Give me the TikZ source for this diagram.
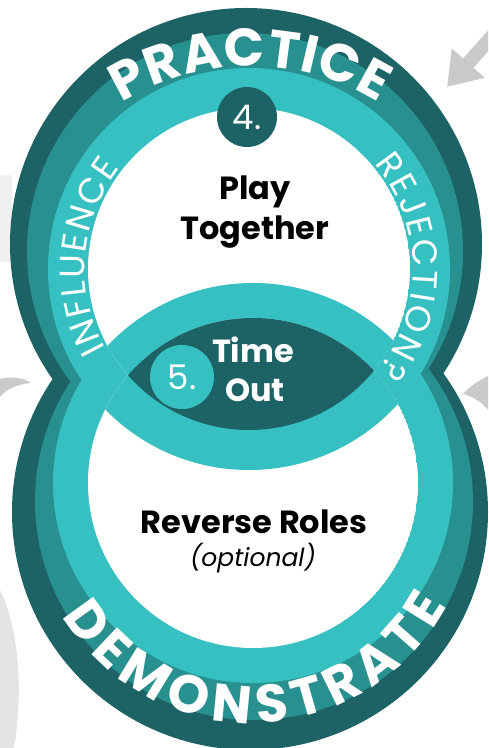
\documentclass[tikz,border=0pt]{standalone}
\usepackage{fontspec}
\setmainfont{Poppins}
\usetikzlibrary{calc,decorations.text,arrows.meta}
\definecolor{teal1}{HTML}{1D6264}
\definecolor{teal2}{HTML}{28908E}
\definecolor{teal3}{HTML}{37C0C2}
\definecolor{grey1}{HTML}{CACACA}
\definecolor{grey2}{HTML}{F0F0F0}
\definecolor{grey3}{HTML}{E4E4E4}
\newcommand{\bigword}{\fontsize{53}{53}\selectfont\bfseries\color{white}}
\newcommand{\sideword}{\fontsize{35}{35}\selectfont\color{white}}

\tikzset{
  numdisc/.style={circle, inner sep=0pt, text=white, font=\fontsize{34}{34}\selectfont},
  steptext/.style={anchor=base, font=\fontsize{32}{32}\selectfont\bfseries}
}

\begin{document}
\begin{tikzpicture}[x=1pt, y=1pt]
\useasboundingbox (0,0) rectangle (488,748);
\clip (0,0) rectangle (488,748);

% centres of the rings
\coordinate (topdark) at (246,504);
\coordinate (topmid) at (245,497);
\coordinate (top) at (249,479);
\coordinate (botdark) at (250,236);
\coordinate (botmid) at (254,247);
\coordinate (bot) at (253,265);
\coordinate (arcup) at (250,440);
\coordinate (arcdown) at (252,246);

% grey parts of the outer cycle
\fill[grey2] (0,486) rectangle (12,573);
\fill[grey3] (0,158) .. controls (18,123) and (24,58) .. (14,0) -- (0,0) -- cycle;
\fill[grey1] (0,369) .. controls (12,372) and (24,370) .. (31,365) .. controls (18,364) and (6,359) .. (0,351) -- cycle;
\fill[grey1] (488,372) .. controls (476,366) and (468,360) .. (463,354) .. controls (472,352) and (482,346) .. (488,338) -- cycle;
\coordinate (arrowtail) at (512,734);
\coordinate (arrowtip) at (447,661);
\draw[grey1, line width=14pt, -{Triangle[width=42pt,length=32pt]}] (arrowtail) -- (arrowtip);

% rings
\fill[teal1] (topdark) circle [radius=236pt] (botdark) circle [radius=238pt];
\fill[teal2] (topmid) circle [radius=218pt] (botmid) circle [radius=219pt];
\fill[teal3] (top) circle [radius=201pt] (bot) circle [radius=200pt];

\begin{scope}
\clip (top) circle [radius=161pt];
\fill[white] (top) circle [radius=161pt];
\fill[teal3] (bot) circle [radius=200pt];
\end{scope}
\begin{scope}
\clip (bot) circle [radius=165pt];
\fill[white] (bot) circle [radius=165pt];
\fill[teal3] (top) circle [radius=201pt];
\fill[teal1] (top) circle [radius=161pt];
\end{scope}

% words on the rings
\path[decorate, decoration={text along path, text={|\bigword|PRACTICE}, text align={fit to path}}]
  ($(arcup)+(122:242pt)$) arc [start angle=122, end angle=58, radius=242pt];
\path[decorate, decoration={text along path, text={|\bigword|DEMONSTRATE}, text align={fit to path}}]
  ($(arcdown)+(211:221pt)$) arc [start angle=211, end angle=332, radius=221pt];
\path[decorate, decoration={text along path, text={|\sideword|INFLUENCE}, text align={fit to path}}]
  ($(top)+(209:164pt)$) arc [start angle=209, end angle=142, radius=164pt];
\path[decorate, decoration={text along path, text={|\sideword|REJECTION?}, text align={fit to path}}]
  ($(top)+(40:164pt)$) arc [start angle=40, end angle=-38, radius=164pt];

% steps
\node[numdisc, fill=teal1, minimum size=60pt] (four) at (247,631) {4.};
\node[numdisc, fill=teal3, minimum size=64pt] (five) at (182,371) {5.};
\node[steptext] (play) at (255,548) {Play};
\node[steptext] (together) at (255,508) {Together};
\node[steptext, text=white] (time) at (253,385) {Time};
\node[steptext, text=white] (out) at (255,346) {Out};
\node[steptext] (reverse) at (254,214) {Reverse Roles};
\node[anchor=base, font=\fontsize{25}{25}\selectfont\itshape] (optional) at (253,181) {(optional)};
\end{tikzpicture}
\end{document}
